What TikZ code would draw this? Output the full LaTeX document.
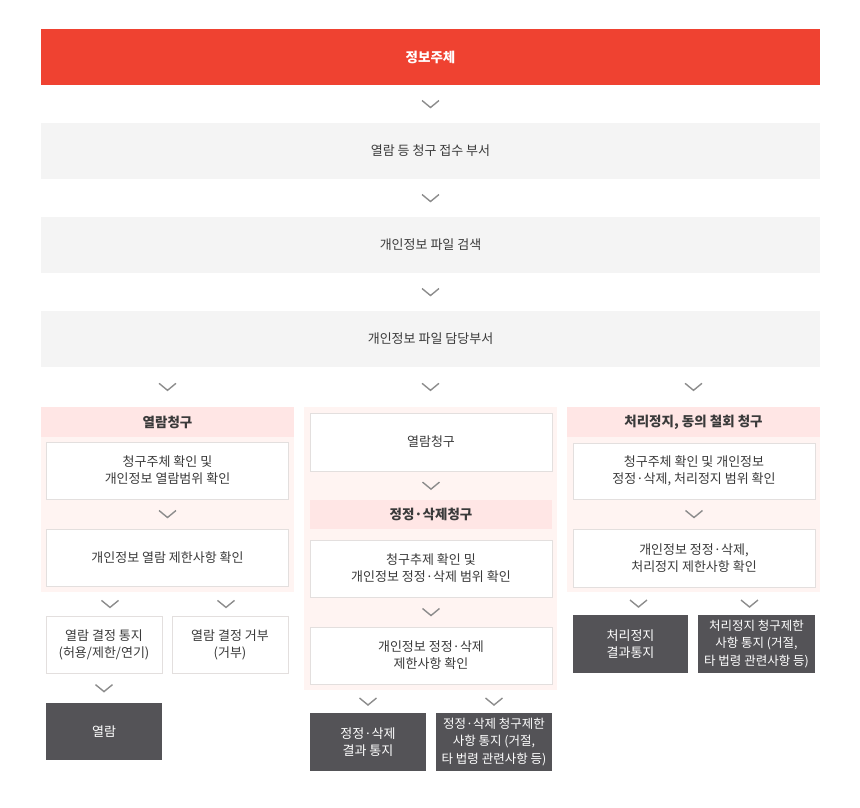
\documentclass[tikz,border=0pt]{standalone}
\usepackage{fontspec}
\setmainfont{Noto Sans CJK KR}
\usetikzlibrary{calc}
\definecolor{hdred}{HTML}{EF4231}
\definecolor{boxgray}{HTML}{F4F4F4}
\definecolor{panelpink}{HTML}{FFF4F2}
\definecolor{bandpink}{HTML}{FFE6E5}
\definecolor{linegray}{HTML}{E3DFDE}
\definecolor{darkbox}{HTML}{545357}
\definecolor{chevgray}{HTML}{8C8C8C}
\definecolor{txt}{HTML}{3A3A3A}
\tikzset{
 base/.style={inner sep=0pt,align=center,text=txt,font=\fontsize{13}{17}\selectfont},
 bar/.style={base,fill=boxgray,minimum width=779pt,minimum height=56pt},
 panel/.style={fill=panelpink,minimum width=253pt},
 band/.style={base,fill=bandpink,font=\fontsize{13.5}{17}\selectfont\bfseries},
 wbox/.style={base,draw=linegray,line width=0.8pt,fill=white,minimum width=242pt,minimum height=57pt},
 sbox/.style={wbox,minimum width=116pt},
 dbox/.style={base,fill=darkbox,text=white,minimum width=116pt,minimum height=57pt},
 chev/.pic={\draw[chevgray,line width=1.4pt] (-8.5,-3.5) -- (0,3.5) -- (8.5,-3.5);}
}
\begin{document}
\begin{tikzpicture}[x=1pt,y=-1pt]
\useasboundingbox (0,0) rectangle (860,807);
% top chain
\node[bar,fill=hdred,text=white,font=\fontsize{13.5}{17}\selectfont\bfseries] (g0) at (430.5,57) {정보주체};
\node[bar] (g1) at (430.5,151) {열람 등 청구 접수 부서};
\node[bar] (g2) at (430.5,245) {개인정보 파일 검색};
\node[bar] (g3) at (430.5,339) {개인정보 파일 담당부서};
\foreach \a/\b in {g0/g1,g1/g2,g2/g3}
 \pic at ($(\a.south)!.5!(\b.north)$) {chev};
% panels
\node[panel,minimum height=185pt] (panelL) at (167.5,499.5) {};
\node[panel,minimum height=283pt] (panelM) at (430.5,548.5) {};
\node[panel,minimum height=185pt] (panelR) at (693.5,499.5) {};
\foreach \p in {panelL,panelM,panelR}
 \pic at ($(\p.north)+(0,-20)$) {chev};
% left column
\node[band,minimum width=253pt,minimum height=30pt] (bandL) at (167.5,422) {열람청구};
\node[wbox] (L1) at (167.5,470.5) {청구주체 확인 및\\개인정보 열람범위 확인};
\node[wbox] (L2) at (167.5,557.5) {개인정보 열람 제한사항 확인};
\node[sbox] (La) at (104,644.5) {열람 결정 통지\\(허용/제한/연기)};
\node[sbox] (Lb) at (230,644.5) {열람 결정 거부\\(거부)};
\node[dbox] (Lc) at (104,731.5) {열람};
% middle column
\node[wbox,minimum height=58pt] (M1) at (431,442) {열람청구};
\node[band,minimum width=242pt,minimum height=29pt] (bandM) at (431,514.5) {정정·삭제청구};
\node[wbox] (M2) at (431,568.5) {청구추제 확인 및\\개인정보 정정·삭제 범위 확인};
\node[wbox] (M3) at (431,655.5) {개인정보 정정·삭제\\제한사항 확인};
\node[dbox,minimum height=58pt] (Ma) at (368,742) {정정·삭제\\결과 통지};
\node[dbox,minimum height=58pt,font=\fontsize{12.5}{17.5}\selectfont] (Mb) at (494,742) {정정·삭제 청구제한\\사항 통지 (거절,\\타 법령 관련사항 등)};
% right column
\node[band,minimum width=253pt,minimum height=30pt] (bandR) at (693.5,422) {처리정지, 동의 철회 청구};
\node[wbox,minimum height=56pt] (R1) at (694,471) {청구주체 확인 및 개인정보\\정정·삭제, 처리정지 범위 확인};
\node[wbox,minimum height=58pt] (R2) at (694,558) {개인정보 정정·삭제,\\처리정지 제한사항 확인};
\node[dbox,minimum width=115pt,minimum height=58pt] (Ra) at (630.5,644) {처리정지\\결과통지};
\node[dbox,minimum width=117pt,minimum height=58pt,font=\fontsize{12.5}{17.5}\selectfont] (Rb) at (756.5,644) {처리정지 청구제한\\사항 통지 (거절,\\타 법령 관련사항 등)};
% chevrons inside and below
\foreach \a/\b in {L1/L2,La/Lc,M1/bandM,M2/M3,R1/R2}
 \pic at ($(\a.south)!.5!(\b.north)$) {chev};
\pic at ($(La.north)!.5!(La.north|-panelL.south)+(6,0)$) {chev};
\pic at ($(Lb.north)!.5!(Lb.north|-panelL.south)+(-4,0)$) {chev};
\pic at ($(Ma.north)!.5!(Ma.north|-panelM.south)$) {chev};
\pic at ($(Mb.north)!.5!(Mb.north|-panelM.south)$) {chev};
\pic at ($(Ra.north)!.5!(Ra.north|-panelR.south)+(8,0)$) {chev};
\pic at ($(Rb.north)!.5!(Rb.north|-panelR.south)+(-7,0)$) {chev};
\end{tikzpicture}
\end{document}
